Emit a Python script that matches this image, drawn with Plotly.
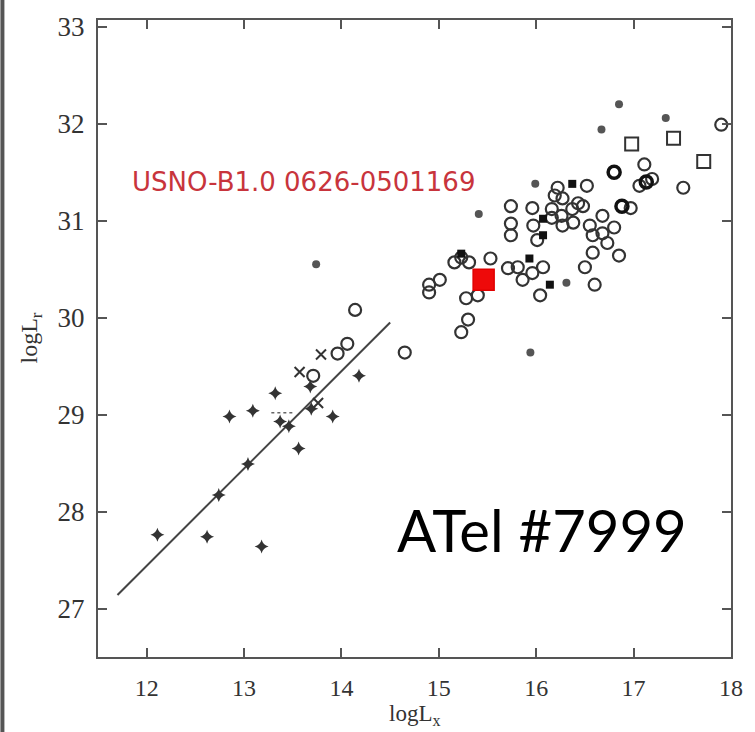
import plotly.graph_objects as go

# ---- data ----
circle_x = [17.90, 17.11, 17.06, 17.19, 17.51, 16.52, 16.22, 16.19, 16.27, 16.43,
            16.48, 16.37, 15.74, 15.96, 16.16, 16.97, 16.16, 16.26, 15.97, 15.74,
            15.74, 16.01, 16.27, 16.38, 16.55, 16.68, 16.80, 16.58, 16.68, 16.73,
            16.58, 16.85, 16.50, 16.60, 16.04, 16.07, 15.71, 15.81, 15.86, 15.96,
            15.53, 15.23, 15.16, 15.31, 15.28, 15.40, 15.30, 15.23, 14.90, 14.90,
            15.01, 14.65, 14.14, 14.06, 13.96, 13.71]
circle_y = [31.99, 31.58, 31.36, 31.43, 31.34, 31.36, 31.34, 31.26, 31.23, 31.18,
            31.15, 31.12, 31.15, 31.13, 31.12, 31.13, 31.03, 31.05, 30.95, 30.97,
            30.85, 30.80, 30.95, 30.98, 30.95, 31.05, 30.93, 30.85, 30.87, 30.77,
            30.67, 30.64, 30.52, 30.34, 30.23, 30.52, 30.51, 30.52, 30.39, 30.46,
            30.61, 30.62, 30.57, 30.57, 30.20, 30.23, 29.98, 29.85, 30.34, 30.26,
            30.39, 29.64, 30.08, 29.73, 29.63, 29.40]
bold_circle_x = [16.80, 16.88, 17.13]
bold_circle_y = [31.50, 31.15, 31.40]
open_square_x = [16.98, 17.41, 17.72]
open_square_y = [31.79, 31.85, 31.61]
filled_square_x = [16.37, 16.07, 16.07, 15.93, 16.14, 15.23]
filled_square_y = [31.38, 31.02, 30.85, 30.61, 30.34, 30.66]
dot_x = [15.99, 15.41, 16.85, 17.33, 16.67, 15.94, 13.74, 16.31]
dot_y = [31.38, 31.07, 32.20, 32.06, 31.94, 29.64, 30.55, 30.36]
plus_x = [12.11, 12.62, 13.18, 12.74, 13.04, 13.56, 13.46, 13.37, 13.68, 13.69,
          13.91, 13.09, 12.85, 13.32, 14.18]
plus_y = [27.76, 27.74, 27.64, 28.17, 28.49, 28.65, 28.88, 28.93, 29.29, 29.06,
          28.98, 29.04, 28.98, 29.22, 29.40]
xmark_x = [13.57, 13.79, 13.76]
xmark_y = [29.44, 29.62, 29.12]
dotted_x = [13.28, 13.52]
dotted_y = [29.02, 29.02]
fit_x = [11.70, 14.50]
fit_y = [27.14, 29.95]
source_x = [15.46]
source_y = [30.39]
source_name = "USNO-B1.0 0626-0501169"
atel_text = "ATel #7999"
x_ticks = [12, 13, 14, 15, 16, 17, 18]
y_ticks = [27, 28, 29, 30, 31, 32, 33]

ink = "#333333"
fig = go.Figure()

fig.add_trace(go.Scatter(x=fit_x, y=fit_y, mode="lines",
                         line=dict(color="#444444", width=2), hoverinfo="skip"))
fig.add_trace(go.Scatter(x=dotted_x, y=dotted_y, mode="lines",
                         line=dict(color="#666666", width=1.5, dash="dot")))
fig.add_trace(go.Scatter(x=circle_x, y=circle_y, mode="markers",
                         marker=dict(symbol="circle-open", size=12, color=ink,
                                     line=dict(width=2.2, color=ink))))
fig.add_trace(go.Scatter(x=bold_circle_x, y=bold_circle_y, mode="markers",
                         marker=dict(symbol="circle-open", size=12, color="#111",
                                     line=dict(width=3.5, color="#111"))))
fig.add_trace(go.Scatter(x=open_square_x, y=open_square_y, mode="markers",
                         marker=dict(symbol="square-open", size=13, color=ink,
                                     line=dict(width=2, color=ink))))
fig.add_trace(go.Scatter(x=filled_square_x, y=filled_square_y, mode="markers",
                         marker=dict(symbol="square", size=8, color="#111111")))
fig.add_trace(go.Scatter(x=dot_x, y=dot_y, mode="markers",
                         marker=dict(symbol="circle", size=8, color="#555555")))
fig.add_trace(go.Scatter(x=plus_x, y=plus_y, mode="markers",
                         marker=dict(symbol="star-diamond", size=10, color="#333333")))
fig.add_trace(go.Scatter(x=xmark_x, y=xmark_y, mode="markers",
                         marker=dict(symbol="x-thin-open", size=10, color=ink,
                                     line=dict(width=2, color=ink))))
fig.add_trace(go.Scatter(x=source_x, y=source_y, mode="markers",
                         marker=dict(symbol="square", size=21, color="#ee0a0a",
                                     line=dict(width=1.5, color="#e00000"))))

axis_common = dict(showline=True, linecolor="#555555", linewidth=2, mirror="ticks",
                   ticks="inside", ticklen=9, tickwidth=1.5, tickcolor="#555555",
                   showgrid=False, zeroline=False)
fig.update_xaxes(range=[11.5, 18.0], tickvals=x_ticks, ticklabelstandoff=8,
                 tickfont=dict(family="Liberation Serif", size=24, color="#333"),
                 **axis_common)
fig.update_yaxes(range=[26.5, 33.07], tickvals=y_ticks, ticklabelstandoff=6,
                 tickfont=dict(family="Liberation Serif", size=27, color="#333"),
                 **axis_common)

fig.add_annotation(x=11.83, y=31.40, text=source_name, showarrow=False,
                   xanchor="left", yanchor="middle",
                   font=dict(family="DejaVu Sans", size=26, color="#c8343c"))
fig.add_annotation(x=14.55, y=27.81, text=atel_text, showarrow=False,
                   xanchor="left", yanchor="middle",
                   font=dict(family="Lato", size=58, color="#000000"))
fig.add_annotation(xref="paper", yref="paper", x=0.5, y=0, yshift=-58,
                   text="logL<sub>x</sub>", showarrow=False, yanchor="middle",
                   font=dict(family="Liberation Serif", size=23, color="#333"))
fig.add_annotation(xref="paper", yref="paper", x=0, xshift=-68, y=0.5,
                   text="logL<sub>r</sub>", showarrow=False, textangle=-90,
                   xanchor="center", yanchor="middle",
                   font=dict(family="Liberation Serif", size=24, color="#333"))
fig.add_shape(type="line", xref="paper", yref="paper", x0=-0.151, x1=-0.151,
              y0=-0.2, y1=1.1, line=dict(color="#555555", width=4))

fig.update_layout(width=755, height=732, showlegend=False,
                  paper_bgcolor="white", plot_bgcolor="white",
                  margin=dict(l=98, r=16, t=20, b=75))
fig.write_html("out.html")
